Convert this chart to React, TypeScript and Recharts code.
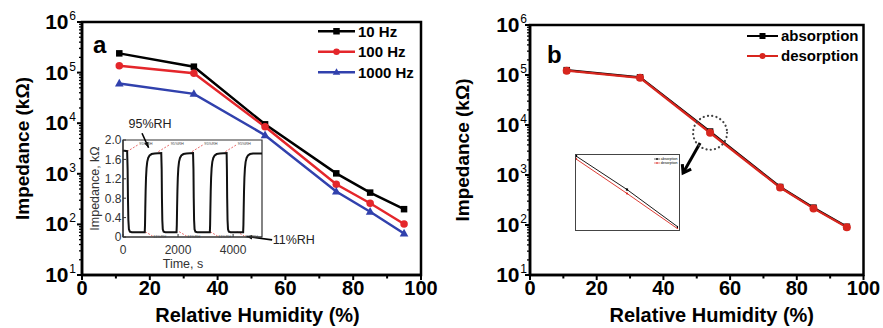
import React from "react";
import {
  LineChart,
  Line,
  XAxis,
  YAxis,
  Label,
  Legend,
  ReferenceArea,
  ReferenceLine,
  ReferenceDot,
} from "recharts";

const FONT = "'Liberation Sans', Arial, Helvetica, sans-serif";

// relative humidity steps (%)
const humidity = [11, 33, 54, 75, 85, 95];

// impedance (kΩ) at three test frequencies
const z10Hz = [240000, 131000, 9500, 1020, 425, 200];
const z100Hz = [137000, 97000, 8500, 620, 262, 102];
const z1000Hz = [61000, 38000, 5800, 445, 178, 66];

// 100 Hz loop: rising then falling humidity
const zAbsorption = [125000, 90000, 7400, 575, 222, 92];
const zDesorption = [122000, 88000, 7000, 560, 215, 90];

// close-up of the loop around 54 %RH
const zoomRh = [53, 54, 55];
const zoomAbsorption = [8026, 7210, 6298];
const zoomDesorption = [7954, 7114, 6250];

// response / recovery cycles between 11 %RH and 95 %RH
const responseTime = [
  0, 60, 150, 168, 180, 195, 215, 250, 320,
  790, 800, 810, 822, 836, 855, 880, 915, 965, 1040, 1150, 1390,
  1405, 1415, 1428, 1445, 1475, 1540,
  1945, 1955, 1965, 1977, 1991, 2010, 2035, 2070, 2120, 2195, 2305, 2545,
  2560, 2570, 2583, 2600, 2630, 2695,
  3155, 3165, 3175, 3187, 3201, 3220, 3245, 3280, 3330, 3405, 3515, 3765,
  3775, 3785, 3798, 3815, 3845, 3910,
  4365, 4375, 4385, 4397, 4411, 4430, 4455, 4490, 4540, 4615, 4725, 5050,
];
const responseZ = [
  1.78, 1.78, 1.77, 1.4, 0.8, 0.35, 0.16, 0.11, 0.1,
  0.1, 0.25, 0.6, 0.95, 1.22, 1.42, 1.55, 1.63, 1.68, 1.71, 1.72, 1.73,
  1.4, 0.8, 0.35, 0.16, 0.11, 0.1,
  0.1, 0.25, 0.6, 0.95, 1.22, 1.42, 1.55, 1.63, 1.68, 1.71, 1.72, 1.73,
  1.4, 0.8, 0.35, 0.16, 0.11, 0.1,
  0.1, 0.25, 0.6, 0.95, 1.22, 1.42, 1.55, 1.63, 1.68, 1.71, 1.72, 1.73,
  1.4, 0.8, 0.35, 0.16, 0.11, 0.1,
  0.1, 0.25, 0.6, 0.95, 1.22, 1.42, 1.55, 1.63, 1.68, 1.71, 1.72, 1.72,
];
const highMarkTimes = [593, 1734, 2956, 4170];
const lowMarkTimes = [1103, 2338, 3465, 4436];

const humidityTicks = [0, 10, 20, 30, 40, 50, 60, 70, 80, 90, 100];
const decadeTicks = [10, 100, 1000, 10000, 100000, 1000000];
const minorMultipliers = [2, 3, 4, 5, 6, 7, 8, 9];
const timeTicks = [0, 2000, 4000];
const responseTicks = [0, 0.4, 0.8, 1.2, 1.6, 2.0];

const logTicks = [
  ...decadeTicks,
  ...decadeTicks.slice(0, -1).flatMap((d) => minorMultipliers.map((m) => d * m)),
];

const RED = "#e4262b";
const BLUE = "#3141ad";
const LOOP_RED = "#d8261e";

type Shape = "square" | "circle" | "triangle";
type SeriesItem = { key: string; name: string; color: string; shape: Shape };

const freqSeries: SeriesItem[] = [
  { key: "f10", name: "10 Hz", color: "#000", shape: "square" },
  { key: "f100", name: "100 Hz", color: RED, shape: "circle" },
  { key: "f1000", name: "1000 Hz", color: BLUE, shape: "triangle" },
];
const loopSeries: SeriesItem[] = [
  { key: "abs", name: "absorption", color: "#000", shape: "square" },
  { key: "des", name: "desorption", color: LOOP_RED, shape: "circle" },
];

const freqRows = humidity.map((rh, i) => ({ rh, f10: z10Hz[i], f100: z100Hz[i], f1000: z1000Hz[i] }));
const loopRows = humidity.map((rh, i) => ({ rh, abs: zAbsorption[i], des: zDesorption[i] }));
const zoomRows = zoomRh.map((rh, i) => ({ rh, abs: zoomAbsorption[i], des: zoomDesorption[i] }));
const responseRows = responseTime.map((t, i) => ({ t, z: responseZ[i] }));

function Marker({ cx, cy, shape, color, size }: { cx?: number; cy?: number; shape: Shape; color: string; size: number }) {
  if (cx == null || cy == null) return null;
  const h = size / 2;
  if (shape === "square") return <rect x={cx - h} y={cy - h} width={size} height={size} fill={color} />;
  if (shape === "triangle")
    return (
      <polygon
        points={`${cx},${cy - h * 1.25} ${cx - h * 1.15},${cy + h * 0.8} ${cx + h * 1.15},${cy + h * 0.8}`}
        fill={color}
      />
    );
  return <circle cx={cx} cy={cy} r={h} fill={color} />;
}

const markerDot = (shape: Shape, color: string, size: number) => (p: any) =>
  <Marker key={`m-${p.index}`} cx={p.cx} cy={p.cy} shape={shape} color={color} size={size} />;

function LegendRows({
  items, fontSize, lineLen, rowH, mark, lineW, width, bold = true,
}: {
  items: SeriesItem[]; fontSize: number; lineLen: number; rowH: number; mark: number; lineW: number; width: number; bold?: boolean;
}) {
  return (
    <svg width={width} height={rowH * items.length} style={{ display: "block", overflow: "visible" }}>
      {items.map((it, i) => {
        const y = rowH * i + rowH / 2;
        return (
          <g key={it.name}>
            <line x1={0} x2={lineLen} y1={y} y2={y} stroke={it.color} strokeWidth={lineW} />
            <Marker cx={lineLen / 2} cy={y} shape={it.shape} color={it.color} size={mark} />
            <text
              x={lineLen + fontSize * 0.2}
              y={y + fontSize * 0.36}
              fontSize={fontSize}
              fontWeight={bold ? "bold" : "normal"}
              fontFamily={FONT}
              fill="#000"
            >
              {it.name}
            </text>
          </g>
        );
      })}
    </svg>
  );
}

function LogTick({ x, y, payload, gap }: any) {
  const v = payload.value as number;
  const major = decadeTicks.includes(v);
  const exp = Math.round(Math.log10(v));
  return (
    <g>
      <line x1={x} x2={x - (major ? 5 : 3)} y1={y} y2={y} stroke="#000" strokeWidth={major ? 2 : 1.3} />
      {major && (
        <>
          <text x={x - gap} y={y + 7} textAnchor="end" fontSize={21} fontWeight="bold" fontFamily={FONT} fill="#000">
            10
          </text>
          <text x={x - gap + 0.8} y={y - 2} textAnchor="start" fontSize={12} fontFamily={FONT} fill="#000">
            {exp}
          </text>
        </>
      )}
    </g>
  );
}

function HumTick({ x, y, payload }: any) {
  const v = payload.value as number;
  const major = v % 20 === 0;
  return (
    <g>
      <line x1={x} x2={x} y1={y} y2={y + (major ? 5 : 3.5)} stroke="#000" strokeWidth={2} />
      {major && (
        <text x={x} y={y + 20} textAnchor="middle" fontSize={20} fontWeight="bold" fontFamily={FONT} fill="#000">
          {v}
        </text>
      )}
    </g>
  );
}

function TimeTick({ x, y, payload }: any) {
  return (
    <g>
      <line x1={x} x2={x} y1={y} y2={y - 3} stroke="#333" strokeWidth={1} />
      <text x={x} y={y + 17} textAnchor="middle" fontSize={12} fontFamily={FONT} fill="#333">
        {payload.value}
      </text>
    </g>
  );
}

function RespTick({ x, y, payload }: any) {
  const v = payload.value as number;
  return (
    <g>
      <line x1={x} x2={x + 3} y1={y} y2={y} stroke="#333" strokeWidth={1} />
      <text x={x - 1.5} y={y + 4.3} textAnchor="end" fontSize={12} fontFamily={FONT} fill="#333">
        {v === 0 ? "0" : v.toFixed(1)}
      </text>
    </g>
  );
}

// straight arrow; filled head or open chevron at the end point
const arrowShape = (head: number, width: number, filled: boolean) => (p: any) => {
  const { x1, y1, x2, y2 } = p;
  const a = Math.atan2(y2 - y1, x2 - x1);
  const s = filled ? 0.38 : 0.6;
  const l = [x2 - head * Math.cos(a - s), y2 - head * Math.sin(a - s)];
  const r = [x2 - head * Math.cos(a + s), y2 - head * Math.sin(a + s)];
  return (
    <g>
      <line x1={x1} y1={y1} x2={x2} y2={y2} stroke="#000" strokeWidth={width} />
      {filled ? (
        <polygon points={`${x2},${y2} ${l} ${r}`} fill="#000" />
      ) : (
        <polyline points={`${l} ${x2},${y2} ${r}`} fill="none" stroke="#000" strokeWidth={width} />
      )}
    </g>
  );
};

const axisText = { fontSize: 20, fontWeight: "bold", fontFamily: FONT, fill: "#000" } as const;

function FrequencyChart() {
  return (
    <LineChart width={440} height={328} data={freqRows} margin={{ top: 22, right: 19, bottom: 0, left: 0 }}>
      <XAxis
        dataKey="rh"
        type="number"
        domain={[0, 100]}
        ticks={humidityTicks}
        interval={0}
        height={53}
        tickSize={0}
        tickMargin={0}
        tickLine={false}
        tick={(p: any) => <HumTick {...p} />}
        axisLine={{ stroke: "#000", strokeWidth: 2.5 }}
      >
        <Label value="Relative Humidity (%)" position="insideBottom" offset={6} dx={6} {...axisText} />
      </XAxis>
      <YAxis
        type="number"
        scale="log"
        domain={[10, 1000000]}
        allowDataOverflow
        ticks={logTicks}
        interval={0}
        width={82}
        tickSize={0}
        tickMargin={0}
        tickLine={false}
        tick={(p: any) => <LogTick {...p} gap={13.5} />}
        axisLine={{ stroke: "#000", strokeWidth: 2.5 }}
      >
        <Label value="Impedance (kΩ)" angle={-90} position="center" dx={-18.5} {...axisText} fontSize={19} />
      </YAxis>
      <ReferenceArea x1={0} x2={100} y1={10} y2={1000000} fill="none" stroke="#000" strokeWidth={2.5} ifOverflow="visible" />
      {freqSeries.map((s) => (
        <Line
          key={s.key}
          dataKey={s.key}
          name={s.name}
          type="linear"
          stroke={s.color}
          strokeWidth={2.5}
          dot={markerDot(s.shape, s.color, s.shape === "square" ? 6.5 : 7.5)}
          isAnimationActive={false}
        />
      ))}
      <Legend
        layout="vertical"
        align="center"
        verticalAlign="middle"
        wrapperStyle={{ top: 21, left: 318, width: "auto" }}
        content={() => (
          <LegendRows items={freqSeries} fontSize={15} lineLen={37} rowH={20.5} mark={6.5} lineW={2.5} width={100} />
        )}
      />
      <text x={93} y={53} fontSize={24} fontWeight="bold" fontFamily={FONT} fill="#000">
        a
      </text>
    </LineChart>
  );
}

function ResponseInset() {
  const dashStyle = { stroke: "#e24a4a", strokeWidth: 0.8, strokeDasharray: "2 1.5" };
  return (
    <LineChart width={245} height={160} data={responseRows} margin={{ top: 28, right: 63, bottom: 0, left: 0 }}>
      <XAxis
        dataKey="t"
        type="number"
        domain={[0, 5050]}
        allowDataOverflow
        ticks={timeTicks}
        interval={0}
        height={35}
        tickSize={0}
        tickMargin={0}
        tickLine={false}
        tick={(p: any) => <TimeTick {...p} />}
        axisLine={{ stroke: "#333", strokeWidth: 1.2 }}
      >
        <Label value="Time, s" position="insideBottom" offset={4} dx={-9.5} fontSize={12.5} fontFamily={FONT} fill="#333" />
      </XAxis>
      <YAxis
        type="number"
        domain={[0, 2]}
        allowDataOverflow
        ticks={responseTicks}
        interval={0}
        width={43}
        tickSize={0}
        tickMargin={0}
        tickLine={false}
        tick={(p: any) => <RespTick {...p} />}
        axisLine={{ stroke: "#333", strokeWidth: 1.2 }}
      >
        <Label value="Impedance, kΩ" angle={-90} position="center" dx={-7} fontSize={12.5} fontFamily={FONT} fill="#333" />
      </YAxis>
      <ReferenceArea x1={0} x2={5050} y1={0} y2={2} fill="none" stroke="#333" strokeWidth={1.2} ifOverflow="visible" />
      {highMarkTimes.map((t) => (
        <ReferenceLine key={`hd${t}`} segment={[{ x: t - 450, y: 1.76 }, { x: t - 50, y: 1.9 }]} ifOverflow="visible" {...dashStyle} />
      ))}
      {lowMarkTimes.map((t) => (
        <ReferenceLine key={`ld${t}`} segment={[{ x: t - 300, y: 0.11 }, { x: t - 30, y: 0.02 }]} ifOverflow="visible" {...dashStyle} />
      ))}
      <Line dataKey="z" type="linear" stroke="#111" strokeWidth={2} dot={false} isAnimationActive={false} />
      {highMarkTimes.map((t) => (
        <ReferenceDot
          key={`ht${t}`}
          x={t}
          y={1.92}
          r={0}
          fill="none"
          stroke="none"
          ifOverflow="visible"
          label={{ value: "95%RH", position: "right", offset: 0, fontSize: 3.8, fill: "#444", fontFamily: FONT }}
        />
      ))}
      {lowMarkTimes.map((t) => (
        <ReferenceDot
          key={`lt${t}`}
          x={t}
          y={0.0}
          r={0}
          fill="none"
          stroke="none"
          ifOverflow="visible"
          label={{ value: "11%RH", position: "right", offset: 0, fontSize: 3.8, fill: "#444", fontFamily: FONT }}
        />
      ))}
      <ReferenceLine segment={[{ x: 691, y: 2.14 }, { x: 930, y: 1.84 }]} ifOverflow="visible" shape={arrowShape(6, 1.6, true)} />
      <ReferenceLine segment={[{ x: 5418, y: -0.06 }, { x: 4490, y: 0.01 }]} ifOverflow="visible" shape={arrowShape(6, 1.6, true)} />
      <ReferenceDot
        x={982}
        y={2.33}
        r={0}
        fill="none"
        stroke="none"
        ifOverflow="visible"
        label={{ value: "95%RH", position: "center", fontSize: 12.5, fill: "#222", fontFamily: FONT }}
      />
      <ReferenceDot
        x={5440}
        y={-0.06}
        r={0}
        fill="none"
        stroke="none"
        ifOverflow="visible"
        label={{ value: "11%RH", position: "right", offset: 0, fontSize: 12.5, fill: "#222", fontFamily: FONT }}
      />
    </LineChart>
  );
}

function LoopChart() {
  return (
    <LineChart width={443} height={328} data={loopRows} margin={{ top: 25, right: 19.5, bottom: 0, left: 0 }}>
      <XAxis
        dataKey="rh"
        type="number"
        domain={[0, 100]}
        ticks={humidityTicks}
        interval={0}
        height={53}
        tickSize={0}
        tickMargin={0}
        tickLine={false}
        tick={(p: any) => <HumTick {...p} />}
        axisLine={{ stroke: "#000", strokeWidth: 2.5 }}
      >
        <Label value="Relative Humidity (%)" position="insideBottom" offset={6} dx={15} {...axisText} />
      </XAxis>
      <YAxis
        type="number"
        scale="log"
        domain={[10, 1000000]}
        allowDataOverflow
        ticks={logTicks}
        interval={0}
        width={90}
        tickSize={0}
        tickMargin={0}
        tickLine={false}
        tick={(p: any) => <LogTick {...p} gap={10.5} />}
        axisLine={{ stroke: "#000", strokeWidth: 2.5 }}
      >
        <Label value="Impedance (kΩ)" angle={-90} position="center" dx={-23} {...axisText} fontSize={19} />
      </YAxis>
      <ReferenceArea x1={0} x2={100} y1={10} y2={1000000} fill="none" stroke="#000" strokeWidth={2.5} ifOverflow="visible" />
      {loopSeries.map((s) => (
        <Line
          key={s.key}
          dataKey={s.key}
          name={s.name}
          type="linear"
          stroke={s.color}
          strokeWidth={2.3}
          dot={markerDot(s.shape, s.color, s.shape === "square" ? 6.5 : 8)}
          isAnimationActive={false}
        />
      ))}
      <ReferenceDot
        x={54}
        y={7000}
        r={17}
        fill="none"
        stroke="#444"
        strokeWidth={2.2}
        strokeDasharray="0.1 4.2"
        strokeLinecap="round"
        ifOverflow="visible"
      />
      <ReferenceLine segment={[{ x: 51, y: 4365 }, { x: 45.9, y: 1096 }]} ifOverflow="visible" shape={arrowShape(9, 3, false)} />
      <Legend
        layout="vertical"
        align="center"
        verticalAlign="middle"
        wrapperStyle={{ top: 26, left: 307, width: "auto" }}
        content={() => (
          <LegendRows items={loopSeries} fontSize={15} lineLen={31} rowH={20} mark={6} lineW={2} width={130} />
        )}
      />
      <text x={107} y={63} fontSize={24} fontWeight="bold" fontFamily={FONT} fill="#000">
        b
      </text>
    </LineChart>
  );
}

function LoopZoomInset() {
  return (
    <LineChart width={102} height={74} data={zoomRows} margin={{ top: 0, right: 0, bottom: 0, left: 0 }}>
      <XAxis dataKey="rh" type="number" domain={[53, 55]} hide />
      <YAxis type="number" domain={[6250, 8050]} hide />
      {loopSeries.map((s) => (
        <Line
          key={s.key}
          dataKey={s.key}
          type="linear"
          stroke={s.color}
          strokeWidth={0.9}
          dot={markerDot(s.shape, s.color, 2.2)}
          isAnimationActive={false}
        />
      ))}
      <Legend
        layout="vertical"
        align="center"
        verticalAlign="middle"
        wrapperStyle={{ top: 2, left: 78, width: "auto" }}
        content={() => (
          <LegendRows items={loopSeries} fontSize={3.6} lineLen={6} rowH={4} mark={1.6} lineW={0.6} width={22} bold={false} />
        )}
      />
    </LineChart>
  );
}

export default function App() {
  return (
    <div style={{ position: "absolute", left: 0, top: 0, width: 883, height: 328, background: "#fff", fontFamily: FONT }}>
      <div style={{ position: "absolute", left: 0, top: 0 }}>
        <FrequencyChart />
      </div>
      <div style={{ position: "absolute", left: 80, top: 112 }}>
        <ResponseInset />
      </div>
      <div style={{ position: "absolute", left: 440, top: 0 }}>
        <LoopChart />
      </div>
      <div
        style={{
          position: "absolute",
          left: 575,
          top: 154,
          width: 105,
          height: 77,
          border: "1.5px solid #444",
          boxSizing: "border-box",
          background: "#fff",
        }}
      >
        <LoopZoomInset />
      </div>
    </div>
  );
}
